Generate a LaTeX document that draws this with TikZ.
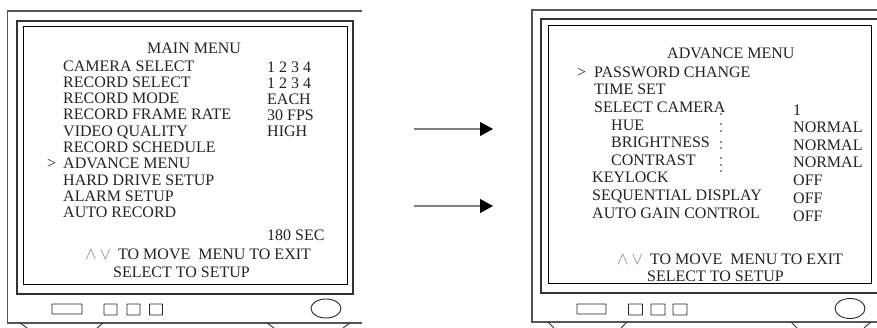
\documentclass[tikz,border=0pt]{standalone}
\usepackage{fontspec}
\setmainfont{Liberation Serif}
\usetikzlibrary{arrows.meta}
\definecolor{txt}{HTML}{222222}
\definecolor{frameg}{HTML}{555555}
\tikzset{
  outerline/.style={draw=frameg, line width=1.2pt},
  bezelline/.style={draw=black!80, line width=1.1pt},
  screenline/.style={draw=black, line width=1pt},
  btn/.style={draw=black!85, line width=0.9pt, rounded corners=0.5pt},
  tx/.style={anchor=base west, inner sep=0pt, text=txt, font=\fontsize{16}{16}\selectfont},
  arrowsym/.style={anchor=base west, inner sep=0pt, text=gray, font=\fontsize{18}{18}\selectfont},
  flowarrow/.style={draw=gray, line width=1.2pt, -{Triangle[length=13pt,width=14pt,black]}},
  standline/.style={draw=black!80, line width=0.9pt},
  dotmark/.style={fill=txt, draw=none, circle, inner sep=0pt, minimum size=1.6pt}
}
\begin{document}
\begin{tikzpicture}[x=1pt,y=-1pt]
\useasboundingbox (0,0) rectangle (877,328);
% ---------- Left monitor ----------
\draw[outerline] (362,11) -- (7.5,11) -- (7.5,323) -- (362,323);
\draw[bezelline] (17,21) rectangle (353,294);
\draw[screenline] (23,27) rectangle (347,285);
\node[btn, minimum width=30pt, minimum height=10pt, inner sep=0pt] (lb1) at (67,309) {};
\node[btn, minimum width=13pt, minimum height=11pt, inner sep=0pt] (lb2) at (110.5,309.5) {};
\node[btn, minimum width=13pt, minimum height=11pt, inner sep=0pt] (lb3) at (133.5,309.5) {};
\node[btn, minimum width=13pt, minimum height=11pt, inner sep=0pt] (lb4) at (156,309.5) {};
\draw[btn] (326,308.5) ellipse (15 and 9.5);
\draw[standline] (20,323) -- (27,328) (103,323) -- (97,328) (267,323) -- (274,328) (350,323) -- (343,328);
% texts left
\node[tx] (lt) at (147,54) {MAIN MENU};
\node[tx] (l1) at (63,72) {CAMERA SELECT};
\node[tx] (l2) at (63,88) {RECORD SELECT};
\node[tx] (l3) at (63,104) {RECORD MODE};
\node[tx] (l4) at (63,120) {RECORD FRAME RATE};
\node[tx] (l5) at (63,137) {VIDEO QUALITY};
\node[tx] (l6) at (63,153) {RECORD SCHEDULE};
\node[tx] (lsel) at (47,169) {>};
\node[tx] (l7) at (63,169) {ADVANCE MENU};
\node[tx] (l8) at (63,186) {HARD DRIVE SETUP};
\node[tx] (l9) at (63,202) {ALARM SETUP};
\node[tx] (l10) at (63,218) {AUTO RECORD};
\node[tx] (v1) at (267,73) {1 2 3 4};
\node[tx] (v2) at (267,89) {1 2 3 4};
\node[tx] (v3) at (267,105) {EACH};
\node[tx] (v4) at (267,121) {30 FPS};
\node[tx] (v5) at (267,137) {HIGH};
\node[tx] (v6) at (267,241) {180 SEC};
\node[arrowsym] (la) at (85,260) {$\wedge\,\vee$};
\node[tx] (lm) at (118,260) {TO MOVE\ \ MENU TO EXIT};
\node[tx] (ls) at (113,278) {SELECT TO SETUP};
% ---------- Arrows ----------
\coordinate (a1s) at (414,129);
\coordinate (a1e) at (493,129);
\coordinate (a2s) at (414,206);
\coordinate (a2e) at (493,206);
\draw[flowarrow] (a1s) -- (a1e);
\draw[flowarrow] (a2s) -- (a2e);
% ---------- Right monitor ----------
\draw[outerline] (877,10) -- (532,10) -- (532,322) -- (877,322);
\draw[bezelline] (877,19) -- (541,19) -- (541,293) -- (877,293);
\draw[screenline] (548,26) rectangle (871,284);
\node[btn, minimum width=29pt, minimum height=10pt, inner sep=0pt] (rb1) at (591.5,309) {};
\node[btn, minimum width=14pt, minimum height=11pt, inner sep=0pt] (rb2) at (635.5,309.5) {};
\node[btn, minimum width=14pt, minimum height=11pt, inner sep=0pt] (rb3) at (658,309.5) {};
\node[btn, minimum width=14pt, minimum height=11pt, inner sep=0pt] (rb4) at (680,309.5) {};
\draw[btn] (850,308.5) ellipse (15 and 10);
\draw[standline] (548,322) -- (554,328) (627,322) -- (621,328) (791,322) -- (797,328) (871,322) -- (864,328);
% texts right
\node[tx] (rt) at (667,59) {ADVANCE MENU};
\node[tx] (rsel) at (577,78) {>};
\node[tx] (r1) at (594,78) {PASSWORD CHANGE};
\node[tx] (r2) at (594,95) {TIME SET};
\node[tx] (r3) at (594,113) {SELECT CAMERA};
\node[tx] (r4) at (611,131) {HUE};
\node[tx] (r5) at (611,148) {BRIGHTNESS};
\node[tx] (r6) at (611,166) {CONTRAST};
\node[tx] (r7) at (592,183) {KEYLOCK};
\node[tx] (r8) at (592,201) {SEQUENTIAL DISPLAY};
\node[tx] (r9) at (592,219) {AUTO GAIN CONTROL};
\node[tx] (w1) at (793,116) {1};
\node[tx] (w2) at (793,133) {NORMAL};
\node[tx] (w3) at (793,151) {NORMAL};
\node[tx] (w4) at (793,168) {NORMAL};
\node[tx] (w5) at (793,186) {OFF};
\node[tx] (w6) at (793,204) {OFF};
\node[tx] (w7) at (793,222) {OFF};
\foreach \yy [count=\i] in {114,124,131,142,148,158,165,171}
  \node[dotmark] (d\i) at (721,\yy) {};
\node[arrowsym] (ra) at (617,265) {$\wedge\,\vee$};
\node[tx] (rm) at (650,265) {TO MOVE\ \ MENU TO EXIT};
\node[tx] (rs) at (647,282) {SELECT TO SETUP};
\end{tikzpicture}
\end{document}
